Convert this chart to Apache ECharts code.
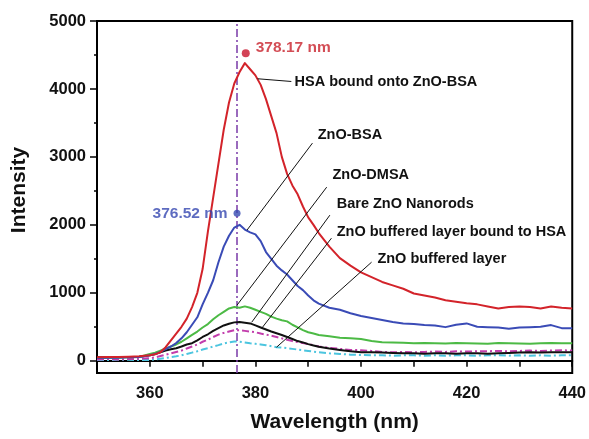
<!DOCTYPE html>
<html>
<head>
<meta charset="utf-8">
<script src="https://cdn.jsdelivr.net/npm/echarts@6/dist/echarts.min.js"></script>
<style>
html,body{margin:0;padding:0;background:#fff;}
#chart{width:589px;height:439px;}
</style>
</head>
<body>
<div id="chart"></div>
<script>
// Wavelength (nm)
var wavelength = [350,352,354,356,358,
  360,361,362,363,364,365,366,367,368,369,370,371,372,373,374,375,376,377,378,379,380,381,382,383,384,385,386,387,388,389,390,391,392,
  394,396,398,400,402,404,406,408,410,412,414,416,418,420,422,424,426,428,430,432,434,436,438,440];

var hsaBoundZnoBsa = [50,55,55,60,65,
  80,95,125,200,300,400,500,620,790,1000,1350,1900,2400,2900,3400,3800,4080,4250,4380,4290,4200,4060,3850,3600,3350,3000,2750,2580,2450,2270,2110,2000,1880,
  1680,1510,1400,1300,1230,1160,1110,1060,990,960,930,890,870,845,830,800,770,790,800,790,770,800,780,770];

var znoBsa = [40,45,45,50,55,
  80,100,130,170,210,260,330,420,530,640,830,1000,1185,1450,1680,1840,1960,2000,1930,1890,1860,1760,1600,1500,1400,1330,1270,1185,1100,1040,960,890,840,
  780,750,700,660,630,600,570,550,540,525,520,495,530,550,500,495,490,470,490,495,500,525,480,480];

var znoDmsa = [40,45,45,50,55,
  100,120,150,180,210,240,280,330,380,430,490,540,610,670,720,770,790,780,800,780,750,720,690,650,620,596,580,530,490,450,420,400,380,
  360,340,330,320,290,272,270,265,258,262,258,255,262,258,255,250,262,258,255,250,258,262,258,258];

var bareZnoNanorods = [50,50,55,55,60,
  80,100,125,150,170,185,210,240,258,300,350,390,440,480,520,545,565,570,560,550,520,490,460,430,405,380,350,320,290,270,245,225,205,
  180,160,140,125,125,120,115,110,110,105,110,110,105,110,110,105,110,115,120,125,120,125,125,125];

var bufferedBoundHsa = [20,25,20,25,30,
  37,50,70,90,110,130,150,180,210,240,280,310,350,385,410,430,450,450,440,430,420,400,385,370,350,330,310,290,275,260,245,230,210,
  190,175,160,155,145,130,125,130,125,130,135,130,140,135,140,140,145,140,145,150,145,150,155,150];

var bufferedLayer = [10,10,15,15,10,
  10,20,30,40,55,65,80,100,120,140,165,185,210,230,255,270,285,280,270,258,250,240,230,215,200,195,185,175,165,155,145,135,125,
  110,100,90,85,80,80,75,80,80,75,80,75,80,80,75,80,80,75,80,75,80,75,80,80];

var seriesNames = ['HSA bound onto ZnO-BSA','ZnO-BSA','ZnO-DMSA','Bare ZnO Nanorods','ZnO buffered layer bound to HSA','ZnO buffered layer'];

// Peak markers [wavelength, intensity, label]
var peakMarkers = [[378.17, 4525, '378.17 nm'], [376.52, 2170, '376.52 nm']];
var peakLine = 376.52;

// Y-axis ticks
var yMajorTicks = [0,1000,2000,3000,4000,5000];
var yMinorTicks = [500,1500,2500,3500,4500];

var xTitle = 'Wavelength (nm)';
var yTitle = 'Intensity';

// Annotation anchors in data units: [text, textX, textY, lineX1, lineY1, lineX2, lineY2]
var annotations = [
  ['HSA bound onto ZnO-BSA', 387.4, 4100, 380.4, 4150, 386.8, 4110],
  ['ZnO-BSA', 391.8, 3320, 390.8, 3203, 378.4, 1922],
  ['ZnO-DMSA', 394.6, 2730, 393.5, 2555, 376.5, 817],
  ['Bare ZnO Nanorods', 395.4, 2305, 394.1, 2143, 379.3, 567],
  ['ZnO buffered layer bound to HSA', 395.4, 1893, 394.4, 1804, 381.2, 479],
  ['ZnO buffered layer', 403.1, 1495, 402.0, 1451, 384.0, 199]
];

var FONT = '"Liberation Sans", Arial, Helvetica, sans-serif';
var colors = ['#d3232a','#3a4bb6','#4cba45','#111111','#c23dac','#4cc5df'];
var values = [hsaBoundZnoBsa, znoBsa, znoDmsa, bareZnoNanorods, bufferedBoundHsa, bufferedLayer];
var dashDot = [7,3,2,3];

function pairs(arr){ return wavelength.map(function(w,i){ return [w, arr[i]]; }); }

var series = [];
for (var k = values.length - 1; k >= 0; k--) {
  series.push({
    name: seriesNames[k], type: 'line', data: pairs(values[k]),
    symbol: 'none', smooth: false, z: 3 + (values.length - k),
    lineStyle: { color: colors[k], width: 2, type: (k >= 4 ? dashDot : 'solid'), join: 'round' }
  });
}
series.push({
  type: 'line', data: [], symbol: 'none',
  markLine: {
    silent: true, symbol: 'none', label: { show: false },
    lineStyle: { color: '#7a3aa8', width: 1.5, type: [8,3,2,3] },
    data: [{ xAxis: peakLine }]
  }
});
series.push({
  type: 'scatter', z: 20, symbolSize: 8,
  data: [
    { value: [peakMarkers[0][0], peakMarkers[0][1]], itemStyle: { color: '#c8142c' },
      label: { show: true, position: 'right', distance: 6, offset: [0,-6], formatter: peakMarkers[0][2],
        color: '#c8202a', fontSize: 15.5, fontWeight: 'bold', fontFamily: FONT } },
    { value: [peakMarkers[1][0], peakMarkers[1][1]], itemStyle: { color: '#3448b0' }, symbolSize: 7,
      label: { show: true, position: 'left', distance: 6, formatter: peakMarkers[1][2],
        color: '#3446b0', fontSize: 15.5, fontWeight: 'bold', fontFamily: FONT } }
  ]
});

var labelStyle = { color: '#111', fontSize: 16.5, fontWeight: 'bold', fontFamily: FONT };

var option = {
  animation: false,
  backgroundColor: '#fff',
  grid: { left: 97, right: 16, top: 21, bottom: 66, show: true, borderColor: '#000', borderWidth: 2, backgroundColor: 'transparent' },
  xAxis: {
    type: 'value', min: 350, max: 440, interval: 10,
    name: xTitle, nameLocation: 'middle', nameGap: 39,
    nameTextStyle: { color: '#111', fontSize: 21, fontWeight: 'bold', fontFamily: FONT },
    axisLine: { lineStyle: { color: '#000', width: 2 } },
    axisTick: { inside: false, length: 6, lineStyle: { color: '#000', width: 1.5 } },
    axisLabel: Object.assign({ margin: 12, formatter: function(v){ return (v % 20 === 0 && v !== 350) ? String(v) : ''; } }, labelStyle),
    splitLine: { show: false }
  },
  yAxis: [{
    type: 'value', min: -180, max: 5000,
    axisLine: { lineStyle: { color: '#000', width: 2 } },
    axisTick: { length: 7, customValues: yMajorTicks, lineStyle: { color: '#000', width: 1.5 } },
    axisLabel: Object.assign({ margin: 11, customValues: yMajorTicks, formatter: function(v){ return String(v); } }, labelStyle),
    splitLine: { show: false }
  }, {
    type: 'value', min: -180, max: 5000, position: 'left',
    axisLine: { show: false },
    axisTick: { length: 3, customValues: yMinorTicks, lineStyle: { color: '#000', width: 1.5 } },
    axisLabel: { show: false, customValues: yMinorTicks },
    splitLine: { show: false }
  }],
  series: series
};

var chart = echarts.init(document.getElementById('chart'), null, { renderer: 'canvas' });
chart.setOption(option);

var g = [];
annotations.forEach(function(a){
  var t = chart.convertToPixel({ gridIndex: 0 }, [a[1], a[2]]);
  var p1 = chart.convertToPixel({ gridIndex: 0 }, [a[3], a[4]]);
  var p2 = chart.convertToPixel({ gridIndex: 0 }, [a[5], a[6]]);
  g.push({ type: 'line', z: 30, shape: { x1: p1[0], y1: p1[1], x2: p2[0], y2: p2[1] }, style: { stroke: '#111', lineWidth: 1 } });
  g.push({ type: 'text', z: 31, x: t[0], y: t[1], style: { text: a[0], fill: '#111', font: 'bold 14.5px ' + FONT, textAlign: 'left', textVerticalAlign: 'middle' } });
});
g.push({ type: 'text', z: 31, x: 19, y: 190, rotation: Math.PI / 2,
  style: { text: yTitle, fill: '#111', font: 'bold 21px ' + FONT, textAlign: 'center', textVerticalAlign: 'middle' } });
chart.setOption({ graphic: g });
</script>
</body>
</html>
